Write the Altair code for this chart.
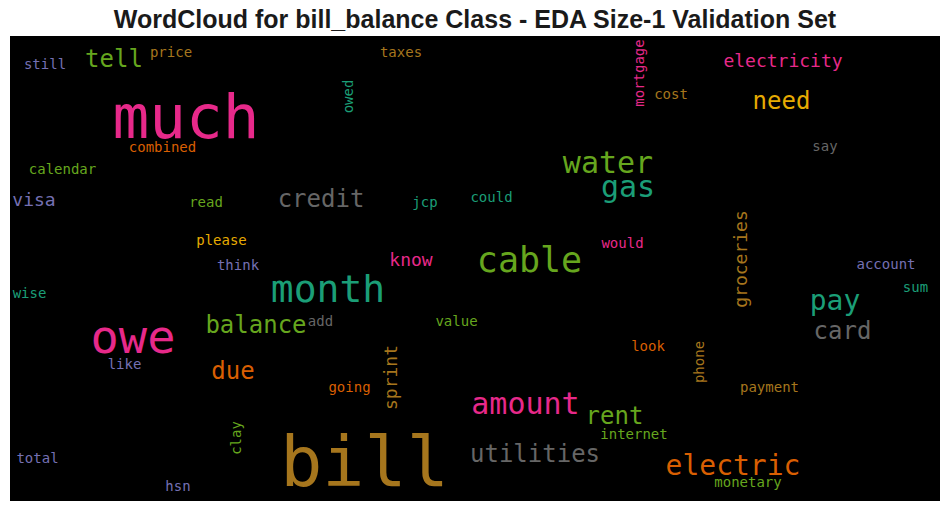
import altair as alt
import pandas as pd

# Word cloud content: words, relative weight (rendered font size), colour group, orientation
words = ["much", "bill", "owe", "month", "cable", "amount", "water", "gas", "electric", "pay",
         "utilities", "credit", "balance", "tell", "need", "card", "rent", "due",
         "electricity", "groceries", "know", "sprint", "visa",
         "still", "price", "combined", "calendar", "read", "please", "think", "wise",
         "taxes", "owed", "could", "jcp", "mortgage", "cost", "say", "account", "sum",
         "would", "add", "value", "like", "clay", "total", "hsn", "going", "internet",
         "look", "phone", "payment", "monetary"]
weights = [61, 70, 47, 38, 35, 30, 30, 30, 28, 28,
           24, 24, 24, 24, 24, 24, 24, 24,
           18, 18, 18, 18, 18,
           14, 14, 14, 14, 14, 14, 14, 14,
           14, 14, 14, 14, 14, 14, 14, 14, 14,
           14, 14, 14, 14, 14, 14, 14, 14, 14,
           14, 14, 14, 14]
groups = ["pink", "brown", "pink", "teal", "green", "pink", "green", "teal", "orange", "teal",
          "gray", "gray", "green", "green", "yellow", "gray", "green", "orange",
          "pink", "brown", "pink", "brown", "purple",
          "purple", "brown", "orange", "green", "green", "yellow", "purple", "teal",
          "brown", "teal", "teal", "teal", "pink", "brown", "gray", "purple", "teal",
          "pink", "gray", "green", "purple", "green", "purple", "purple", "orange", "green",
          "orange", "brown", "brown", "green"]
vertical = ["owed", "mortgage", "groceries", "sprint", "clay", "phone"]

# Layout of the cloud (positions within the 930 x 465 canvas)
pos_x = [176, 354.5, 123, 318, 519.5, 515.5, 598, 618, 723, 825,
         525, 311, 246, 104, 771.5, 832.5, 604.5, 223,
         773, 737, 401, 387.4, 24,
         35, 161, 152.5, 52.5, 196, 211.5, 228, 19.5,
         391, 343, 481.5, 415, 634, 661, 815, 876, 905.5,
         612.5, 310.5, 446.5, 114.5, 230.6, 27.5, 168, 339.5, 624,
         638, 693.6, 759.5, 738]
pos_y = [102, 450, 317, 265.7, 235.7, 378.3, 136.7, 161, 439, 274,
         426, 171.3, 296.7, 31.3, 73.3, 303.3, 388, 343,
         31.3, 223, 230, 341.5, 169.7,
         33.3, 20.7, 115.7, 138, 171, 209, 234, 262,
         21.3, 60.5, 166.3, 170.7, 37, 63, 114.7, 233, 256.3,
         212.3, 289.7, 290, 333.3, 402, 426.7, 454.7, 355.7, 403.3,
         314.7, 326, 355.7, 450.7]

palette = {"teal": "#1b9e77", "orange": "#d95f02", "purple": "#7570b3", "pink": "#e7298a",
           "green": "#66a61e", "yellow": "#e6ab02", "brown": "#a6761d", "gray": "#666666"}

df = pd.DataFrame({
    "word": words,
    "weight": weights,
    "x": pos_x,
    "y": pos_y,
    "color": [palette[g] for g in groups],
    "angle": [270 if w in vertical else 0 for w in words],
})

chart = alt.Chart(df).mark_text(
    font="DejaVu Sans Mono", align="center", baseline="alphabetic"
).encode(
    x=alt.X("x:Q", scale=alt.Scale(domain=[0, 930], nice=False, zero=False), axis=None),
    y=alt.Y("y:Q", scale=alt.Scale(domain=[0, 465], nice=False, zero=False, reverse=True), axis=None),
    text="word:N",
    size=alt.Size("weight:Q", scale=None, legend=None),
    color=alt.Color("color:N", scale=None, legend=None),
    angle=alt.Angle("angle:Q", scale=None),
).properties(
    width=930,
    height=465,
    title=alt.TitleParams(
        "WordCloud for bill_balance Class - EDA Size-1 Validation Set",
        font="Liberation Sans", fontSize=25, fontWeight="bold", color="#1a1a1a",
        anchor="middle", baseline="alphabetic", offset=10, dy=27,
    ),
    autosize=alt.AutoSizeParams(type="none"),
    padding={"left": 10, "top": 36, "right": 10, "bottom": 10},
    background="white",
).configure_view(fill="black", stroke=None)

chart.save("out.html", embed_options={"renderer": "svg", "actions": False})
